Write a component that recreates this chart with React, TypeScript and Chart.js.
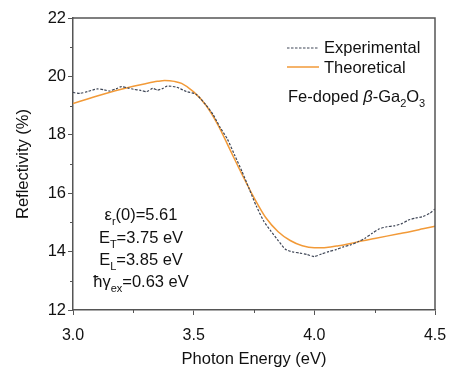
import { useEffect, useRef } from 'react';
import { Chart, registerables } from 'chart.js';
Chart.register(...registerables);

const FONT = '"Liberation Sans", Arial, Helvetica, sans-serif';
const AXIS_COLOR = '#555555';
const EXP_COLOR = '#3f4656';
const THEO_COLOR = '#f29a38';

const expEnergy = [3.00, 3.03, 3.06, 3.10, 3.13, 3.15, 3.18, 3.20, 3.23, 3.25, 3.28, 3.305, 3.33, 3.35, 3.37, 3.39, 3.43, 3.47, 3.51, 3.55, 3.58, 3.61, 3.64, 3.67, 3.70, 3.73, 3.76, 3.79, 3.82, 3.85, 3.88, 3.91, 3.94, 3.97, 4.00, 4.03, 4.06, 4.09, 4.12, 4.15, 4.18, 4.21, 4.24, 4.27, 4.30, 4.33, 4.36, 4.39, 4.42, 4.45, 4.48, 4.50];
const expReflect = [19.45, 19.42, 19.48, 19.57, 19.54, 19.50, 19.58, 19.65, 19.60, 19.56, 19.52, 19.48, 19.59, 19.53, 19.58, 19.67, 19.63, 19.48, 19.39, 19.03, 18.70, 18.25, 17.85, 17.30, 16.75, 16.15, 15.55, 15.05, 14.70, 14.38, 14.08, 13.99, 13.95, 13.90, 13.83, 13.92, 14.00, 14.07, 14.16, 14.23, 14.33, 14.46, 14.63, 14.78, 14.85, 14.88, 14.95, 15.08, 15.15, 15.20, 15.32, 15.46];

const theoEnergy = [3.00, 3.05, 3.10, 3.15, 3.20, 3.25, 3.30, 3.35, 3.38, 3.42, 3.45, 3.50, 3.55, 3.60, 3.65, 3.70, 3.75, 3.80, 3.85, 3.90, 3.95, 4.00, 4.05, 4.10, 4.15, 4.20, 4.25, 4.30, 4.35, 4.40, 4.45, 4.50];
const theoReflect = [19.07, 19.20, 19.33, 19.45, 19.56, 19.66, 19.75, 19.83, 19.86, 19.83, 19.76, 19.47, 19.02, 18.35, 17.50, 16.65, 15.85, 15.15, 14.68, 14.38, 14.20, 14.13, 14.14, 14.20, 14.28, 14.37, 14.45, 14.53, 14.61, 14.69, 14.78, 14.87];

const xTicks = [3.0, 3.5, 4.0, 4.5];
const xMinorTicks = [3.25, 3.75, 4.25];
const yTicks = [12, 14, 16, 18, 20, 22];
const yMinorTicks = [13, 15, 17, 19, 21];

const legendLabels = ['Experimental', 'Theoretical'];

type Seg = { t: string; sub?: boolean; italic?: boolean };
const sampleLabel: Seg[] = [
  { t: 'Fe-doped ' }, { t: 'β', italic: true }, { t: '-Ga' }, { t: '2', sub: true }, { t: 'O' }, { t: '3', sub: true },
];
const paramLines: Seg[][] = [
  [{ t: 'ε' }, { t: 'r', sub: true }, { t: '(0)=5.61' }],
  [{ t: 'E' }, { t: 'T', sub: true }, { t: '=3.75 eV' }],
  [{ t: 'E' }, { t: 'L', sub: true }, { t: '=3.85 eV' }],
  [{ t: 'ħγ' }, { t: 'ex', sub: true }, { t: '=0.63 eV' }],
];

const MAIN_SIZE = 16.5;
const SUB_SIZE = 11;

function segFont(s: Seg) {
  return `${s.italic ? 'italic ' : ''}${s.sub ? SUB_SIZE : MAIN_SIZE}px ${FONT}`;
}
function measureSegs(ctx: CanvasRenderingContext2D, segs: Seg[]) {
  let w = 0;
  for (const s of segs) { ctx.font = segFont(s); w += ctx.measureText(s.t).width; }
  return w;
}
function drawSegs(ctx: CanvasRenderingContext2D, segs: Seg[], x: number, y: number) {
  let cx = x;
  ctx.textBaseline = 'alphabetic';
  ctx.textAlign = 'left';
  for (const s of segs) {
    ctx.font = segFont(s);
    ctx.fillText(s.t, cx, s.sub ? y + 4.5 : y);
    cx += ctx.measureText(s.t).width;
  }
}

const decorPlugin = {
  id: 'decor',
  afterDraw(chart: any) {
    const { ctx, chartArea } = chart;
    const xs = chart.scales.x;
    const ys = chart.scales.y;
    ctx.save();
    // frame (top & right)
    ctx.strokeStyle = AXIS_COLOR;
    ctx.lineWidth = 1.5;
    ctx.beginPath();
    ctx.moveTo(chartArea.left, chartArea.top);
    ctx.lineTo(chartArea.right, chartArea.top);
    ctx.lineTo(chartArea.right, chartArea.bottom);
    ctx.stroke();
    // minor ticks
    ctx.lineWidth = 1;
    ctx.beginPath();
    for (const v of xMinorTicks) {
      const px = Math.round(xs.getPixelForValue(v)) + 0.5;
      ctx.moveTo(px, chartArea.bottom);
      ctx.lineTo(px, chartArea.bottom + 3);
    }
    for (const v of yMinorTicks) {
      const py = Math.round(ys.getPixelForValue(v)) + 0.5;
      ctx.moveTo(chartArea.left, py);
      ctx.lineTo(chartArea.left - 3, py);
    }
    ctx.stroke();

    // legend
    const lx0 = 287, lx1 = 319, textX = 324;
    const rows = [48, 67];
    ctx.lineWidth = 1.2;
    ctx.strokeStyle = EXP_COLOR;
    ctx.setLineDash([2.5, 1.5]);
    ctx.beginPath(); ctx.moveTo(lx0, rows[0]); ctx.lineTo(lx1, rows[0]); ctx.stroke();
    ctx.setLineDash([]);
    ctx.strokeStyle = THEO_COLOR;
    ctx.lineWidth = 1.5;
    ctx.beginPath(); ctx.moveTo(lx0, rows[1]); ctx.lineTo(lx1, rows[1]); ctx.stroke();
    ctx.fillStyle = '#111111';
    ctx.font = `${MAIN_SIZE}px ${FONT}`;
    ctx.textAlign = 'left';
    ctx.textBaseline = 'alphabetic';
    ctx.fillText(legendLabels[0], textX, 53);
    ctx.fillText(legendLabels[1], textX, 73);

    drawSegs(ctx, sampleLabel, 288, 102);

    const baselines = [220, 243, 265, 287];
    paramLines.forEach((segs, i) => {
      const w = measureSegs(ctx, segs);
      drawSegs(ctx, segs, 141 - w / 2, baselines[i]);
    });
    ctx.restore();
  },
};

export default function App() {
  const ref = useRef<HTMLCanvasElement | null>(null);
  useEffect(() => {
    document.body.style.margin = '0';
    const canvas = ref.current!;
    const chart = new Chart(canvas, {
      type: 'line',
      data: {
        datasets: [
          {
            label: legendLabels[0],
            data: expEnergy.map((x, i) => ({ x, y: expReflect[i] })),
            borderColor: EXP_COLOR,
            borderWidth: 1.2,
            borderDash: [2.5, 1.5],
            pointRadius: 0,
            tension: 0.2,
            fill: false,
          },
          {
            label: legendLabels[1],
            data: theoEnergy.map((x, i) => ({ x, y: theoReflect[i] })),
            borderColor: THEO_COLOR,
            borderWidth: 1.5,
            pointRadius: 0,
            cubicInterpolationMode: 'monotone',
            fill: false,
          },
        ],
      },
      options: {
        animation: false,
        responsive: false,
        devicePixelRatio: 1,
        layout: { padding: { top: 18, right: 34, left: 0, bottom: 0 } },
        plugins: { legend: { display: false }, tooltip: { enabled: false } },
        scales: {
          x: {
            type: 'linear',
            min: 3,
            max: 4.5,
            afterFit: (s: any) => { s.height = 69; },
            afterBuildTicks: (s: any) => { s.ticks = xTicks.map((v) => ({ value: v })); },
            grid: { display: true, drawOnChartArea: false, drawTicks: true, tickLength: 5, color: AXIS_COLOR, lineWidth: 1 },
            border: { display: true, color: AXIS_COLOR, width: 1.5 },
            ticks: {
              color: '#111111',
              padding: 11,
              font: { family: FONT, size: 16 },
              callback: (v: any) => Number(v).toFixed(1),
            },
            title: {
              display: true,
              text: 'Photon Energy (eV)',
              color: '#111111',
              font: { family: FONT, size: 16.5 },
              padding: { top: 0, bottom: 10 },
            },
          },
          y: {
            type: 'linear',
            min: 12,
            max: 22,
            afterFit: (s: any) => { s.width = 73; },
            afterBuildTicks: (s: any) => { s.ticks = yTicks.map((v) => ({ value: v })); },
            grid: { display: true, drawOnChartArea: false, drawTicks: true, tickLength: 5, color: AXIS_COLOR, lineWidth: 1 },
            border: { display: true, color: AXIS_COLOR, width: 1.5 },
            ticks: {
              color: '#111111',
              padding: 2,
              font: { family: FONT, size: 16.5 },
              callback: (v: any) => String(v),
            },
            title: {
              display: true,
              text: 'Reflectivity (%)',
              color: '#111111',
              font: { family: FONT, size: 16.5 },
              padding: { top: 14, bottom: 0 },
            },
          },
        },
      },
      plugins: [decorPlugin],
    } as any);
    return () => chart.destroy();
  }, []);
  return <canvas ref={ref} width={469} height={379} style={{ display: 'block' }} />;
}
